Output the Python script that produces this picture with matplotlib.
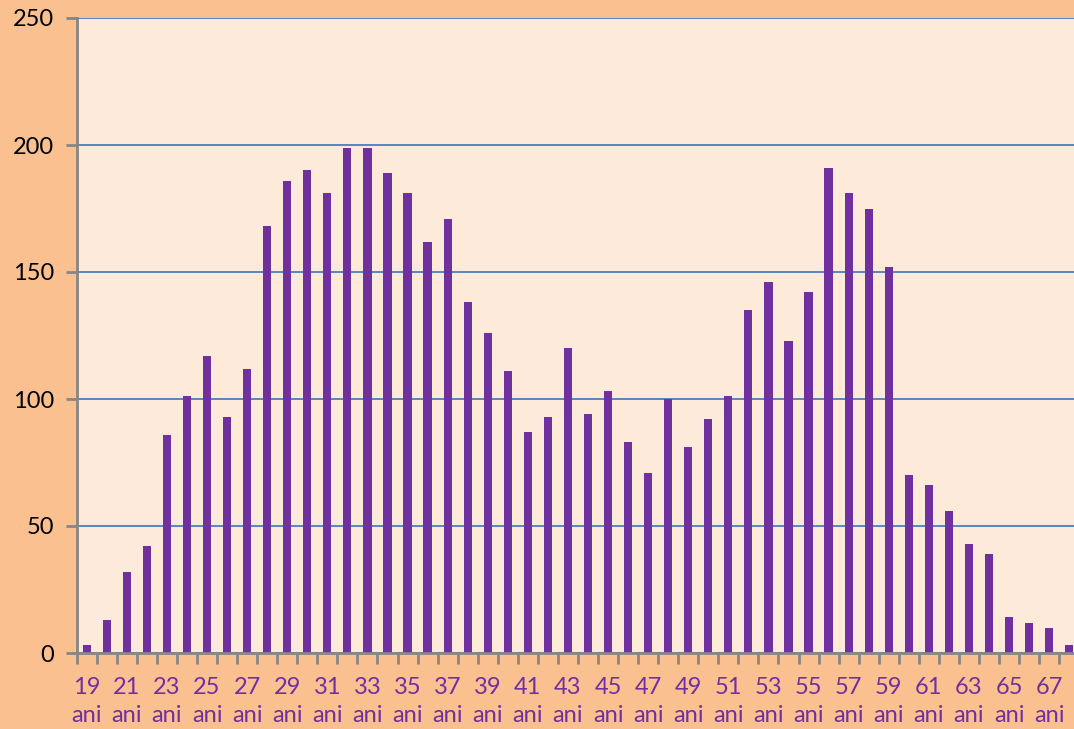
import matplotlib.pyplot as plt
from matplotlib.ticker import FixedLocator

ages = list(range(19, 69))
counts = [3, 13, 32, 42, 86, 101, 117, 93, 112, 168,
          186, 190, 181, 199, 199, 189, 181, 162, 171, 138,
          126, 111, 87, 93, 120, 94, 103, 83, 71, 100,
          81, 92, 101, 135, 146, 123, 142, 191, 181, 175,
          152, 70, 66, 56, 43, 39, 14, 12, 10, 3]
label_ages = ages[::2]
labels = [f"{a}\nani" for a in label_ages]
yticks = [0, 50, 100, 150, 200, 250]

plt.rcParams['font.family'] = ['Lato', 'DejaVu Sans']

fig = plt.figure(figsize=(10.74, 7.29), dpi=100, facecolor='#FAC090')
ax = fig.add_axes([76.7 / 1074, 76 / 729, 1002.5 / 1074, 635 / 729])
ax.set_facecolor('#FDEADA')

ax.bar(ages, counts, width=0.41, color='#7030A0', zorder=3)

ax.set_xlim(18.5, 68.5)
ax.set_ylim(0, 250)
ax.set_yticks(yticks)
ax.yaxis.grid(True, color='#4A7EBB', linewidth=1.3, zorder=1)

ax.set_xticks(label_ages)
ax.set_xticklabels(labels, color='#7030A0', fontsize=17, linespacing=1.45)
ax.xaxis.set_minor_locator(FixedLocator([a + 0.5 for a in range(18, 68)]))
ax.tick_params(axis='x', which='major', length=0, pad=17)
ax.tick_params(axis='x', which='minor', length=8, width=2, color='#868686', direction='out')
ax.tick_params(axis='y', length=8, width=2, color='#868686', labelsize=17, pad=8)

for side in ['top', 'right']:
    ax.spines[side].set_visible(False)
for side in ['left', 'bottom']:
    ax.spines[side].set_color('#868686')
    ax.spines[side].set_linewidth(2)
    ax.spines[side].set_zorder(4)

fig.savefig('out.png', dpi=100, facecolor=fig.get_facecolor())
